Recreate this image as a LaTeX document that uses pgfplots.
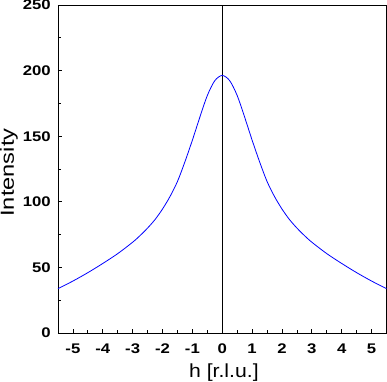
\documentclass[border=0pt]{standalone}
\usepackage{fontspec}
\setmainfont{Liberation Sans}
\newfontfamily\tickfont[FakeStretch=1.2]{Liberation Sans}
\newfontfamily\xlabfont[FakeStretch=1.12]{Liberation Sans}
\newfontfamily\ylabfont[FakeStretch=1.25]{Liberation Sans}
\usepackage{pgfplots}
\pgfplotsset{compat=1.18}
\begin{document}
\begin{tikzpicture}
\path[use as bounding box] (-58bp,-49bp) rectangle (329bp,333bp);
\begin{axis}[
 at={(0,0)}, anchor=south west,
 scale only axis, width=328.5bp, height=328bp,
 xmin=-5.5, xmax=5.5, ymin=0, ymax=250,
 xtick={-5,...,5}, ytick={0,50,...,250},
 minor x tick num=1, minor y tick num=1,
 tick pos=left, tick align=inside,
 major tick length=4bp, minor tick length=2.7bp,
 /pgf/number format/assume math mode=true,
 ticklabel style={font=\tickfont\fontsize{14}{14}\selectfont\bfseries},
 yticklabel style={anchor=east, inner sep=0pt, xshift=-7bp},
 xticklabel style={anchor=center, inner sep=0pt, yshift=-15.5bp},
 xlabel={h [r.l.u.]}, ylabel={Intensity},
 xlabel style={font=\xlabfont\fontsize{19}{19}\selectfont, at={(axis description cs:0.505,0)}, anchor=center, yshift=-39.5bp},
 ylabel style={font=\ylabfont\fontsize{19}{19}\selectfont, at={(axis description cs:0,0.489)}, anchor=center, inner sep=0pt, yshift=48.9bp},
 axis line style={black, line width=0.8bp},
 every tick/.style={black, line width=0.8bp},
]
\addplot[black, line width=0.8bp] coordinates {(0,0) (0,250)};
\addplot[blue, line width=0.8bp, smooth] coordinates {
(-5.5,33.8) (-5.0,39.6) (-4.5,46) (-4.0,53) (-3.5,60.5) (-3.0,69.2) (-2.75,74.3)
(-2.5,80) (-2.25,86.5) (-2.0,94.5) (-1.75,104) (-1.5,115.5) (-1.25,130.5)
(-1.0,147) (-0.75,164.5) (-0.5,181) (-0.25,192.3) (0,196.3)
(0.25,192.3) (0.5,181) (0.75,164.5) (1.0,147) (1.25,130.5) (1.5,115.5)
(1.75,104) (2.0,94.5) (2.25,86.5) (2.5,80) (2.75,74.3) (3.0,69.2) (3.5,60.5)
(4.0,53) (4.5,46) (5.0,39.6) (5.5,33.8)
};
\end{axis}
\end{tikzpicture}
\end{document}
